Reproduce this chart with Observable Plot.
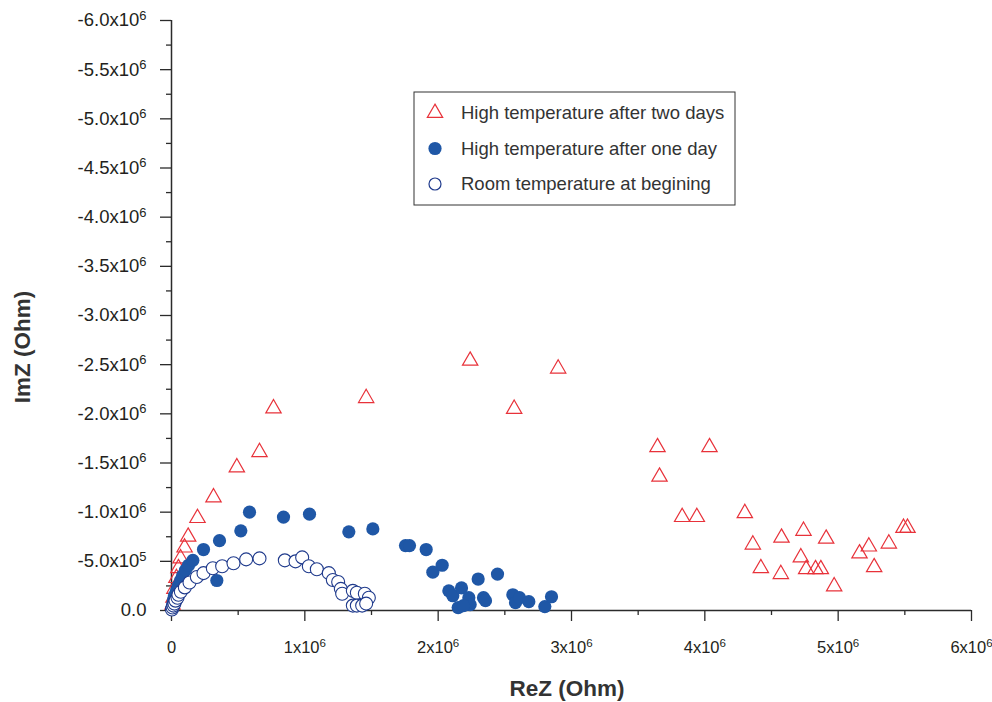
<!DOCTYPE html>
<html><head><meta charset="utf-8">
<script src="https://cdn.jsdelivr.net/npm/d3@7"></script>
<script src="https://cdn.jsdelivr.net/npm/@observablehq/plot@0.6"></script>
<style>
body{margin:0;background:#fff;}
#chart{width:992px;height:702px;}
</style>
</head><body><div id="chart"></div>
<script>
// ---- Data (ReZ, ImZ in Ohm) ----
const seriesNames = ["High temperature after two days", "High temperature after one day", "Room temperature at begining"];

const twoDaysRe = [0.008e6,0.015e6,0.022e6,0.037e6,0.052e6,0.068e6,0.098e6,0.125e6,0.195e6,0.315e6,0.49e6,0.66e6,0.765e6,1.46e6,2.24e6,2.57e6,2.90e6,
  3.645e6,4.035e6,3.66e6,3.83e6,3.94e6,4.30e6,4.36e6,4.42e6,4.575e6,4.57e6,4.74e6,4.72e6,4.76e6,4.83e6,4.87e6,4.91e6,4.97e6,5.16e6,5.23e6,5.27e6,5.38e6,5.49e6,5.52e6];
const twoDaysIm = [-0.06e6,-0.13e6,-0.22e6,-0.33e6,-0.43e6,-0.53e6,-0.64e6,-0.75e6,-0.94e6,-1.15e6,-1.455e6,-1.61e6,-2.055e6,-2.16e6,-2.54e6,-2.05e6,-2.46e6,
  -1.66e6,-1.66e6,-1.36e6,-0.95e6,-0.95e6,-0.99e6,-0.67e6,-0.43e6,-0.74e6,-0.37e6,-0.81e6,-0.54e6,-0.42e6,-0.42e6,-0.42e6,-0.73e6,-0.245e6,-0.58e6,-0.65e6,-0.44e6,-0.68e6,-0.84e6,-0.84e6];

const oneDayRe = [0.005e6,0.01e6,0.015e6,0.022e6,0.037e6,0.05e6,0.068e6,0.083e6,0.105e6,0.128e6,0.16e6,0.24e6,0.36e6,0.52e6,0.585e6,0.34e6,0.84e6,1.035e6,1.33e6,1.51e6,
  1.755e6,1.785e6,1.91e6,1.96e6,2.03e6,2.08e6,2.11e6,2.175e6,2.15e6,2.23e6,2.24e6,2.19e6,2.30e6,2.34e6,2.355e6,2.445e6,2.56e6,2.58e6,2.61e6,2.68e6,2.80e6,2.85e6];
const oneDayIm = [-0.03e6,-0.07e6,-0.11e6,-0.15e6,-0.20e6,-0.25e6,-0.305e6,-0.355e6,-0.41e6,-0.46e6,-0.51e6,-0.62e6,-0.71e6,-0.81e6,-1.00e6,-0.305e6,-0.95e6,-0.98e6,-0.80e6,-0.83e6,
  -0.66e6,-0.66e6,-0.62e6,-0.39e6,-0.46e6,-0.20e6,-0.15e6,-0.23e6,-0.03e6,-0.13e6,-0.06e6,-0.05e6,-0.32e6,-0.13e6,-0.10e6,-0.37e6,-0.16e6,-0.08e6,-0.13e6,-0.09e6,-0.04e6,-0.14e6];

const roomRe = [0.003e6,0.008e6,0.015e6,0.022e6,0.03e6,0.045e6,0.052e6,0.07e6,0.10e6,0.135e6,0.19e6,0.24e6,0.31e6,0.38e6,0.465e6,0.56e6,0.66e6,
  0.85e6,0.93e6,0.98e6,1.03e6,1.09e6,1.18e6,1.21e6,1.25e6,1.27e6,1.28e6,1.36e6,1.39e6,1.45e6,1.48e6,1.36e6,1.39e6,1.43e6,1.46e6];
const roomIm = [-0.01e6,-0.03e6,-0.05e6,-0.07e6,-0.10e6,-0.13e6,-0.16e6,-0.19e6,-0.235e6,-0.285e6,-0.34e6,-0.38e6,-0.43e6,-0.45e6,-0.48e6,-0.52e6,-0.53e6,
  -0.51e6,-0.50e6,-0.54e6,-0.45e6,-0.42e6,-0.38e6,-0.31e6,-0.29e6,-0.22e6,-0.17e6,-0.20e6,-0.18e6,-0.17e6,-0.13e6,-0.05e6,-0.05e6,-0.05e6,-0.07e6];

const xTicks = [0,1e6,2e6,3e6,4e6,5e6,6e6];
const xTickLabels = ["0","1x10^6","2x10^6","3x10^6","4x10^6","5x10^6","6x10^6"];
const xMinorTicks = [0.5e6,1.5e6,2.5e6,3.5e6,4.5e6,5.5e6];
const yTicks = [0,-0.5e6,-1e6,-1.5e6,-2e6,-2.5e6,-3e6,-3.5e6,-4e6,-4.5e6,-5e6,-5.5e6,-6e6];
const yTickLabels = ["0.0","-5.0x10^5","-1.0x10^6","-1.5x10^6","-2.0x10^6","-2.5x10^6","-3.0x10^6","-3.5x10^6","-4.0x10^6","-4.5x10^6","-5.0x10^6","-5.5x10^6","-6.0x10^6"];
const yMinorTicks = [-0.25e6,-0.75e6,-1.25e6,-1.75e6,-2.25e6,-2.75e6,-3.25e6,-3.75e6,-4.25e6,-4.75e6,-5.25e6,-5.75e6];
const xTitle = "ReZ (Ohm)";
const yTitle = "ImZ (Ohm)";

const colors = {red: "#e8323a", blue: "#1f57a6", navy: "#1f3a8c", axis: "#2b2b2b", text: "#231f20"};

const toRows = (re, im) => re.map((v, i) => ({re: v, im: im[i]}));
const twoDays = toRows(twoDaysRe, twoDaysIm);
const oneDay = toRows(oneDayRe, oneDayIm);
const room = toRows(roomRe, roomIm);

const W = 992, H = 702, mL = 171, mR = 21, mT = 20, mB = 92;

const svg = Plot.plot({
  width: W, height: H,
  marginLeft: mL, marginRight: mR, marginTop: mT, marginBottom: mB,
  style: {fontFamily: "'Liberation Sans', Arial, sans-serif", fontSize: "17px", color: colors.text, background: "white", overflow: "visible"},
  x: {domain: [0, 6e6]},
  y: {domain: [0, -6e6]},
  marks: [
    Plot.axisX(xMinorTicks, {tickSize: 5, tickFormat: () => "", stroke: colors.axis, strokeWidth: 1.3, label: null}),
    Plot.axisX(xTicks, {tickSize: 11, tickPadding: 20, tickFormat: d => xTickLabels[xTicks.indexOf(d)], stroke: colors.axis, strokeWidth: 1.3, fontSize: 16.5, label: null}),
    Plot.axisY(yMinorTicks, {tickSize: 5, tickFormat: () => "", stroke: colors.axis, strokeWidth: 1.3, label: null}),
    Plot.axisY(yTicks, {tickSize: 11, tickPadding: 14, tickFormat: d => yTickLabels[yTicks.indexOf(d)], stroke: colors.axis, strokeWidth: 1.3, fontSize: 18.5, label: null}),
    Plot.ruleX([0], {stroke: colors.axis, strokeWidth: 1.5}),
    Plot.ruleY([0], {stroke: colors.axis, strokeWidth: 1.5}),
    Plot.dot(twoDays, {x: "re", y: "im", symbol: "triangle", r: 5.7, stroke: colors.red, fill: "none", strokeWidth: 1.2}),
    Plot.dot(oneDay, {x: "re", y: "im", symbol: "circle", r: 6.6, fill: colors.blue, stroke: "none"}),
    Plot.dot(room, {x: "re", y: "im", symbol: "circle", r: 6.5, fill: "white", stroke: colors.navy, strokeWidth: 1.1})
  ]
});

// superscript exponents in tick labels
d3.select(svg).selectAll("text").each(function() {
  const t = this.textContent;
  if (!t) return;
  const sel = d3.select(this);
  const anchor = getComputedStyle(this).textAnchor || this.getAttribute("text-anchor");
  if (t.includes("^")) {
    const [base, exp] = t.split("^");
    sel.text(null);
    sel.append("tspan").text(base);
    sel.append("tspan").attr("dy", "-0.5em").attr("font-size", "0.7em").text(exp);
    if (anchor === "middle") sel.attr("dx", -6);
  } else if (anchor === "end") {
    sel.attr("dx", -9);
  }
});

const s = d3.select(svg);
// axis titles
s.append("text").attr("x", 567).attr("y", 696).attr("text-anchor", "middle")
  .attr("font-size", 22.5).attr("font-weight", "bold").attr("fill", "#333").text(xTitle);
s.append("text").attr("transform", "translate(30,347) rotate(-90)").attr("text-anchor", "middle")
  .attr("font-size", 22.5).attr("font-weight", "bold").attr("fill", "#333").text(yTitle);

// legend
const lg = s.append("g").attr("text-anchor", "start");
lg.append("rect").attr("x", 414).attr("y", 92).attr("width", 321).attr("height", 113)
  .attr("fill", "white").attr("stroke", "#333").attr("stroke-width", 1);
const legendStyles = [
  {type: d3.symbolTriangle, r: 5.7, fill: "none", stroke: colors.red},
  {type: d3.symbolCircle, r: 6.6, fill: colors.blue, stroke: "none"},
  {type: d3.symbolCircle, r: 6.0, fill: "white", stroke: colors.navy}
];
seriesNames.forEach((name, i) => {
  const cy = 113 + i * 35.5;
  const st = legendStyles[i];
  lg.append("path").attr("transform", `translate(435,${cy})`)
    .attr("d", d3.symbol(st.type, st.r * st.r * Math.PI)())
    .attr("fill", st.fill).attr("stroke", st.stroke).attr("stroke-width", 1.2);
  lg.append("text").attr("x", 461).attr("y", cy).attr("dy", "0.35em").attr("text-anchor", "start")
    .attr("font-size", 18.5).attr("fill", "#333").text(name);
});

document.getElementById("chart").appendChild(svg);
</script>
</body></html>
